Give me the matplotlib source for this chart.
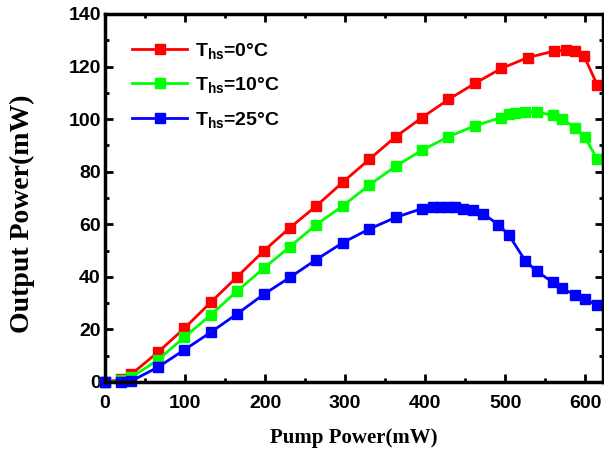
import matplotlib
matplotlib.use("Agg")
import matplotlib.pyplot as plt
from matplotlib.ticker import MultipleLocator

plt.rcParams['mathtext.fontset'] = 'custom'
plt.rcParams['mathtext.rm'] = 'Liberation Sans:bold'
plt.rcParams['mathtext.bf'] = 'Liberation Sans:bold'
plt.rcParams['mathtext.default'] = 'bf'

x_red = [0, 20, 33, 66, 99, 132, 165, 198, 231, 264, 297, 330, 363, 396, 429, 462, 495, 528, 561, 576, 587, 598, 615]
y_red = [0, 1.0, 3.0, 11.3, 20.4, 30.3, 40.0, 49.8, 58.7, 67.0, 76.0, 84.7, 93.3, 100.6, 107.5, 113.6, 119.3, 123.4, 125.9, 126.2, 126.1, 124.2, 112.9]

x_green = [0, 20, 33, 66, 99, 132, 165, 198, 231, 264, 297, 330, 363, 396, 429, 462, 495, 504, 512, 525, 539, 559, 571, 587, 599, 615]
y_green = [0, 0.6, 1.8, 8.4, 17.0, 25.5, 34.6, 43.2, 51.5, 59.9, 67.0, 74.9, 82.1, 88.2, 93.3, 97.5, 100.6, 101.9, 102.4, 102.7, 102.7, 101.5, 100.0, 96.8, 93.3, 84.7]

x_blue = [0, 20, 33, 66, 99, 132, 165, 198, 231, 264, 297, 330, 363, 396, 410, 418, 429, 437, 447, 460, 472, 491, 504, 525, 539, 559, 571, 587, 599, 615]
y_blue = [0, 0, 0.4, 5.6, 12.2, 18.9, 25.9, 33.3, 39.8, 46.6, 53.0, 58.2, 62.6, 66.0, 66.4, 66.7, 66.7, 66.4, 66.0, 65.4, 64.1, 59.9, 56.1, 46.1, 42.2, 38.0, 35.6, 33.1, 31.6, 29.2]

labels = [r'T$_{\mathbf{hs}}$=0°C', r'T$_{\mathbf{hs}}$=10°C', r'T$_{\mathbf{hs}}$=25°C']
colors = ['#ff0000', '#00ff00', '#0000ff']

fig = plt.figure(figsize=(6.04, 4.57), dpi=100)
ax = fig.add_axes([105/604, 1-382/457, 498/604, 368/457])

for xs, ys, c, lab in zip([x_red, x_green, x_blue], [y_red, y_green, y_blue], colors, labels):
    ax.plot(xs, ys, color=c, lw=2, marker='s', ms=6.5, mec=c, label=lab, clip_on=False)

ax.set_xlim(0, 622)
ax.set_ylim(0, 140)
ax.xaxis.set_major_locator(MultipleLocator(100))
ax.xaxis.set_minor_locator(MultipleLocator(50))
ax.yaxis.set_major_locator(MultipleLocator(20))
ax.yaxis.set_minor_locator(MultipleLocator(10))
ax.tick_params(which='both', direction='in', top=True, right=True, width=2)
ax.tick_params(which='major', length=6, labelsize=14)
ax.tick_params(which='minor', length=3)
ax.tick_params(axis='x', which='major', pad=9)
ax.tick_params(axis='y', which='major', pad=3)
for lab in ax.get_xticklabels() + ax.get_yticklabels():
    lab.set_fontfamily('Liberation Sans')
    lab.set_fontweight('bold')
for s in ax.spines.values():
    s.set_linewidth(2.5)

ax.set_xlabel('Pump Power(mW)', fontfamily='Liberation Serif', fontweight='bold', fontsize=15)
ax.set_ylabel('Output Power(mW)', fontfamily='Liberation Serif', fontweight='bold', fontsize=20)
ax.xaxis.set_label_coords(0.5, -(438 - 382) / 368, transform=ax.transAxes)
ax.yaxis.set_label_coords((22 - 105) / 498, 1 - (214 - 14) / 368, transform=ax.transAxes)
ax.xaxis.label.set_va('center')
ax.yaxis.label.set_va('center')

leg = ax.legend(loc='upper left', frameon=False, prop={'family': 'Liberation Sans', 'weight': 'bold', 'size': 14},
                handlelength=2.8, handletextpad=0.4, labelspacing=0.75, bbox_to_anchor=(0.02, 0.975))

fig.savefig('out.png', dpi=100)
